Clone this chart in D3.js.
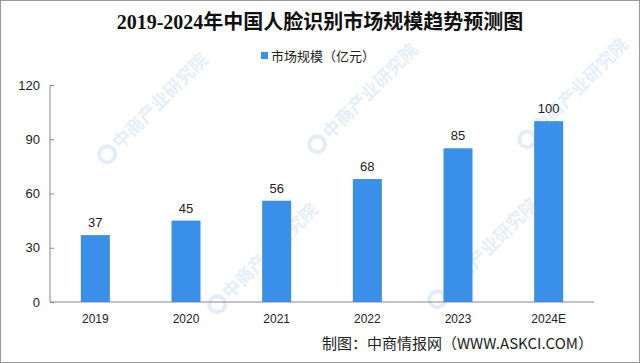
<!DOCTYPE html>
<html>
<head>
<meta charset="utf-8">
<script src="https://cdn.jsdelivr.net/npm/d3@7"></script>
<style>
  body { margin: 0; background: #fff; }
  svg { display: block; }
</style>
</head>
<body>
<svg id="chart" width="640" height="363"></svg>
<script>
var years = ['2019', '2020', '2021', '2022', '2023', '2024E'];
var marketSize = [37, 45, 56, 68, 85, 100];
var yTicks = [0, 30, 60, 90, 120];

var svg = d3.select('#chart'),
  W = 640, H = 363,
  margin = { top: 85, right: 46, bottom: 61, left: 50 },
  width = W - margin.left - margin.right,
  height = H - margin.top - margin.bottom;

var sans = '"Liberation Sans", Arial, "Noto Sans CJK SC", sans-serif';
var cjk = '"Noto Sans CJK SC", sans-serif';

svg.append('rect')
  .attr('x', 0.5).attr('y', 0.5)
  .attr('width', W - 1).attr('height', H - 1)
  .attr('fill', '#fff').attr('stroke', '#9a9a9a');

// watermarks (faint, kept inside the frame)
var wm = svg.append('g').attr('class', 'watermark');
var wmPos = [[120, 150], [330, 140], [540, 135], [230, 300], [450, 295]];
wmPos.forEach(function (p) {
  var w = wm.append('g').attr('transform', 'translate(' + p[0] + ',' + p[1] + ') rotate(-45)');
  w.append('circle').attr('cx', -12).attr('cy', -6).attr('r', 8)
    .attr('fill', 'none').attr('stroke', '#e3edf7').attr('stroke-width', 4);
  w.append('text').attr('x', 0).attr('y', 0)
    .attr('font-family', cjk).attr('font-size', 18).attr('font-weight', 'bold')
    .attr('fill', '#e6eff8')
    .text('中商产业研究院');
});

var g = svg.append('g')
  .attr('transform', 'translate(' + margin.left + ',' + margin.top + ')');

var x = d3.scaleBand().domain(years).range([0, width]).paddingInner(0.68).paddingOuter(0.34);
var y = d3.scaleLinear().domain([0, 120]).range([height, 0]);

// title
svg.append('text')
  .attr('x', W / 2).attr('y', 29)
  .attr('text-anchor', 'middle')
  .attr('font-family', '"Liberation Serif", "Noto Sans CJK SC", serif')
  .attr('font-weight', 'bold').attr('font-size', 20)
  .attr('fill', '#111')
  .text('2019-2024年中国人脸识别市场规模趋势预测图');

// legend
svg.append('rect').attr('x', 261).attr('y', 52).attr('width', 7).attr('height', 7).attr('fill', '#3a8fe8');
svg.append('text').attr('x', 271).attr('y', 61)
  .attr('font-family', cjk).attr('font-size', 13).attr('fill', '#222')
  .text('市场规模（亿元）');

// y axis
var yAxis = g.append('g')
  .call(d3.axisLeft(y).tickValues(yTicks).tickSize(-4).tickPadding(10));
yAxis.select('.domain').attr('stroke', '#888').attr('d', 'M0,0V' + height);
yAxis.selectAll('.tick line').attr('stroke', '#888');
yAxis.selectAll('.tick text')
  .attr('font-family', sans).attr('font-size', 13).attr('fill', '#222');

// x axis
var xAxis = g.append('g')
  .attr('transform', 'translate(0,' + height + ')')
  .call(d3.axisBottom(x).tickSize(0).tickPadding(12));
xAxis.select('.domain').attr('stroke', '#888').attr('d', 'M0,0H' + width);
xAxis.selectAll('.tick text')
  .attr('font-family', sans).attr('font-size', 12).attr('fill', '#222');

// bars
g.selectAll('.bar')
  .data(marketSize)
  .enter().append('rect')
  .attr('class', 'bar')
  .attr('x', function (d, i) { return x(years[i]); })
  .attr('width', x.bandwidth())
  .attr('y', function (d) { return y(d); })
  .attr('height', function (d) { return height - y(d); })
  .attr('fill', '#3a8fe8');

g.selectAll('.value')
  .data(marketSize)
  .enter().append('text')
  .attr('class', 'value')
  .attr('text-anchor', 'middle')
  .attr('x', function (d, i) { return x(years[i]) + x.bandwidth() / 2; })
  .attr('y', function (d) { return y(d) - 8; })
  .attr('font-family', sans).attr('font-size', 13).attr('fill', '#222')
  .text(function (d) { return d; });

// source
svg.append('text')
  .attr('x', 593).attr('y', 349)
  .attr('text-anchor', 'end')
  .attr('font-family', cjk).attr('font-size', 15).attr('fill', '#222')
  .text('制图：中商情报网（WWW.ASKCI.COM）');
</script>
</body>
</html>
